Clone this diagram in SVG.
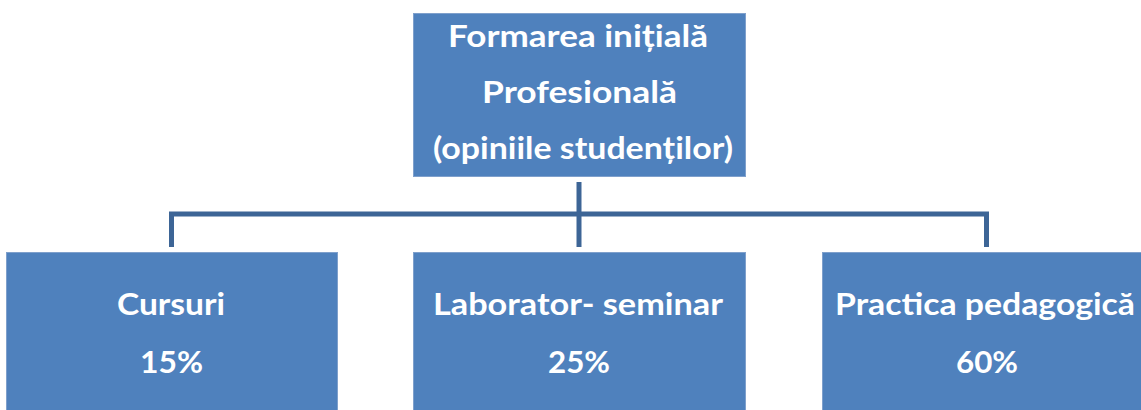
<svg xmlns="http://www.w3.org/2000/svg" width="1141" height="410" viewBox="0 0 1141 410">
<style>
.box{fill:#4F81BD;stroke:#7FA0CC;stroke-width:1}
.t{font-family:Lato,"Open Sans","Liberation Sans",sans-serif;font-weight:bold;font-size:30px;fill:#FFFFFF;text-anchor:middle}
.conn{fill:none;stroke:#3D6596;stroke-width:5}
</style>
<rect x="0" y="0" width="1141" height="410" fill="#FFFFFF"/>
<g id="connectors">
<path class="conn" d="M579,182 V247"/>
<path class="conn" d="M171.5,247 V214 H986.5 V247"/>
</g>
<g id="top">
<rect class="box" x="413.5" y="13.5" width="332" height="163"/>
<text class="t" x="578" y="47" textLength="260" lengthAdjust="spacingAndGlyphs">Formarea inițială</text>
<text class="t" x="579.5" y="103" textLength="195" lengthAdjust="spacingAndGlyphs">Profesională</text>
<text class="t" x="583" y="159" textLength="300" lengthAdjust="spacingAndGlyphs">(opiniile studenților)</text>
</g>
<g id="cursuri">
<rect class="box" x="6.5" y="252.5" width="331" height="163"/>
<text class="t" x="171" y="315" textLength="108" lengthAdjust="spacingAndGlyphs">Cursuri</text>
<text class="t" x="171.5" y="373" textLength="63" lengthAdjust="spacingAndGlyphs">15%</text>
</g>
<g id="laborator">
<rect class="box" x="413.5" y="252.5" width="332" height="163"/>
<text class="t" x="578" y="315" textLength="290" lengthAdjust="spacingAndGlyphs">Laborator- seminar</text>
<text class="t" x="579" y="373" textLength="62" lengthAdjust="spacingAndGlyphs">25%</text>
</g>
<g id="practica">
<rect class="box" x="822.5" y="252.5" width="330" height="163"/>
<text class="t" x="985" y="315" textLength="300" lengthAdjust="spacingAndGlyphs">Practica pedagogică</text>
<text class="t" x="987" y="373" textLength="62" lengthAdjust="spacingAndGlyphs">60%</text>
</g>
</svg>
